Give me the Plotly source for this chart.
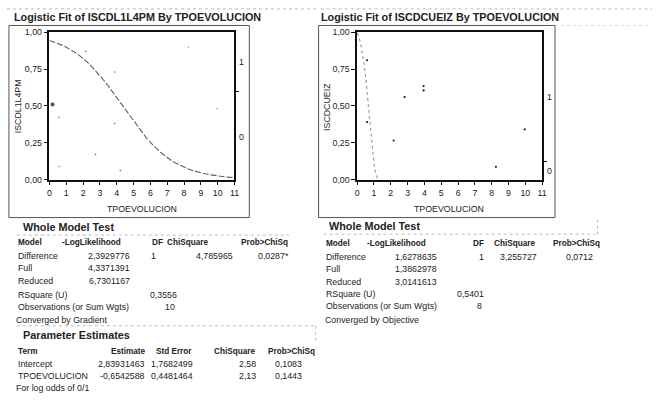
import math
import plotly.graph_objects as go

W, H = 657, 400
FONT = "Liberation Sans, Arial, sans-serif"
TXT = "#222222"

# ---------------- data ----------------
x_ticks = list(range(0, 12))
y_tickvals = [0, 0.25, 0.5, 0.75, 1.0]
y_ticktext = ["0,00", "0,25", "0,50", "0,75", "1,00"]

# left plot: ISCDL1L4PM (jittered points as displayed)
left_x = [0.18, 0.57, 0.57, 2.15, 2.74, 3.88, 3.88, 4.21, 8.25, 9.96]
left_y = [0.51, 0.42, 0.09, 0.87, 0.17, 0.73, 0.38, 0.06, 0.90, 0.48]
left_intercept = 2.83931463
left_slope = -0.6542588
left_boundary = 0.6
left_curve_x = [i * 0.25 for i in range(0, 45)]

# right plot: ISCDCUEIZ
right_x = [0.59, 0.59, 2.17, 2.82, 3.95, 3.95, 8.25, 9.96]
right_y = [0.81, 0.39, 0.265, 0.56, 0.635, 0.605, 0.086, 0.34]
right_curve_x = [0.0, 0.1, 0.2, 0.3, 0.4, 0.5, 0.6, 0.7, 0.8, 0.9, 1.0, 1.1, 1.2, 1.3]
right_curve_y = [0.995, 0.97, 0.93, 0.87, 0.79, 0.70, 0.58, 0.45, 0.32, 0.20, 0.11, 0.04, 0.012, 0.003]
right_boundary = 0.125

titles = ["Logistic Fit of ISCDL1L4PM By TPOEVOLUCION",
          "Logistic Fit of ISCDCUEIZ By TPOEVOLUCION"]
y_titles = ["ISCDL1L4PM", "ISCDCUEIZ"]
x_title = "TPOEVOLUCION"

# tables
wmt_header = ["Model", "-LogLikelihood", "DF", "ChiSquare", "Prob>ChiSq"]
left_wmt = [["Difference", "2,3929776", "1", "4,785965", "0,0287*"],
            ["Full", "4,3371391", "", "", ""],
            ["Reduced", "6,7301167", "", "", ""]]
left_rsq = ["RSquare (U)", "0,3556"]
left_obs = ["Observations (or Sum Wgts)", "10"]
left_conv = "Converged by Gradient"

pe_header = ["Term", "Estimate", "Std Error", "ChiSquare", "Prob>ChiSq"]
pe_rows = [["Intercept", "2,83931463", "1,7682499", "2,58", "0,1083"],
           ["TPOEVOLUCION", "-0,6542588", "0,4481464", "2,13", "0,1443"]]
pe_note = "For log odds of 0/1"

right_wmt = [["Difference", "1,6278635", "1", "3,255727", "0,0712"],
             ["Full", "1,3862978", "", "", ""],
             ["Reduced", "3,0141613", "", "", ""]]
right_rsq = ["RSquare (U)", "0,5401"]
right_obs = ["Observations (or Sum Wgts)", "8"]
right_conv = "Converged by Objective"

# ---------------- helpers ----------------
def px(x):
    return x / W

def py(y):
    return 1 - y / H

annotations = []
shapes = []

def text(x, y, s, size=8.8, bold=False, anchor="left", color=TXT):
    shift = -3 if anchor == "left" else (3 if anchor == "right" else 0)
    annotations.append(dict(
        x=px(x), y=py(y), xref="paper", yref="paper", text=("<b>%s</b>" % s) if bold else s,
        showarrow=False, xanchor=anchor, yanchor="middle", xshift=shift,
        font=dict(family=FONT, size=size, color=color)))

def box(x0, y0, x1, y1, color="#777777", width=1, dash="solid"):
    shapes.append(dict(type="rect", xref="paper", yref="paper",
                       x0=px(x0), y0=py(y1), x1=px(x1), y1=py(y0),
                       line=dict(color=color, width=width, dash=dash)))

def hline(x0, x1, y, color="#bbbbbb", width=1, dash="dot"):
    shapes.append(dict(type="line", xref="paper", yref="paper",
                       x0=px(x0), x1=px(x1), y0=py(y), y1=py(y),
                       line=dict(color=color, width=width, dash=dash)))

def vline(x, y0, y1, color="#bbbbbb", width=1, dash="dot"):
    shapes.append(dict(type="line", xref="paper", yref="paper",
                       x0=px(x), x1=px(x), y0=py(y0), y1=py(y1),
                       line=dict(color=color, width=width, dash=dash)))

# ---------------- figure ----------------
fig = go.Figure()

left_curve_y = [1 / (1 + math.exp(-(left_intercept + left_slope * v))) for v in left_curve_x]

fig.add_trace(go.Scatter(x=left_curve_x, y=left_curve_y, mode="lines",
                         line=dict(color="#5a5e68", width=1.1, dash="6px,2px"),
                         xaxis="x", yaxis="y", showlegend=False, hoverinfo="skip"))
fig.add_trace(go.Scatter(x=left_x, y=left_y, mode="markers",
                         marker=dict(color="#111111", size=[5] + [2.2] * (len(left_x) - 1)),
                         xaxis="x", yaxis="y", showlegend=False))
fig.add_trace(go.Scatter(x=right_curve_x, y=right_curve_y, mode="lines",
                         line=dict(color="#9a9ea6", width=1.2, dash="dot"),
                         xaxis="x2", yaxis="y2", showlegend=False, hoverinfo="skip"))
fig.add_trace(go.Scatter(x=right_x, y=right_y, mode="markers",
                         marker=dict(color="#222222", size=2.2),
                         xaxis="x2", yaxis="y2", showlegend=False))
# invisible traces to activate right-side axes
fig.add_trace(go.Scatter(x=[0], y=[0], mode="markers", marker=dict(opacity=0),
                         xaxis="x", yaxis="y3", showlegend=False, hoverinfo="skip"))
fig.add_trace(go.Scatter(x=[0], y=[0], mode="markers", marker=dict(opacity=0),
                         xaxis="x2", yaxis="y4", showlegend=False, hoverinfo="skip"))

tickfont = dict(family=FONT, size=8.8, color=TXT)

def xaxis_cfg(x0, x1):
    return dict(domain=[px(x0), px(x1)], range=[0, 11], tickvals=x_ticks,
                ticks="outside", ticklen=4, tickcolor="#111", tickwidth=1,
                showline=True, linecolor="#111", linewidth=1.5, mirror=True,
                showgrid=False, zeroline=False, tickfont=tickfont, fixedrange=True)

def yaxis_cfg(anchor):
    return dict(domain=[py(179), py(28)], range=[0, 1], tickvals=y_tickvals,
                ticktext=y_ticktext, ticks="outside", ticklen=4, tickcolor="#111",
                showline=True, linecolor="#111", linewidth=1.5, mirror=True,
                showgrid=False, zeroline=False, tickfont=tickfont, anchor=anchor,
                fixedrange=True)

def yaxis_right(over, anchor, boundary):
    return dict(overlaying=over, anchor=anchor, side="right", range=[0, 1],
                tickvals=[boundary], ticktext=[""], ticks="outside", ticklen=4,
                tickcolor="#111", showline=False, showgrid=False, zeroline=False,
                fixedrange=True)

fig.update_layout(
    width=W, height=H, margin=dict(l=0, r=0, t=0, b=0),
    paper_bgcolor="white", plot_bgcolor="white",
    xaxis=xaxis_cfg(48, 235), yaxis=yaxis_cfg("x"),
    xaxis2=xaxis_cfg(359, 546), yaxis2=yaxis_cfg("x2"),
    yaxis3=yaxis_right("y", "x", left_boundary),
    yaxis4=yaxis_right("y2", "x2", right_boundary),
    showlegend=False,
)

# right-axis level labels
for xr, yr, yv, lab in [("x domain", "y", 0.80, "1"), ("x domain", "y", 0.29, "0"),
                        ("x2 domain", "y2", 0.56, "1"), ("x2 domain", "y2", 0.06, "0")]:
    annotations.append(dict(x=1.0, y=yv, xref=xr, yref=yr, text=lab, showarrow=False,
                            xanchor="left", xshift=3,
                            font=dict(family=FONT, size=8.8, color=TXT)))

# titles and outer frames
text(13, 12, titles[0], size=10.8, bold=True)
text(323, 12, titles[1], size=10.8, bold=True)
box(7, 21, 250, 218, color="#555555")
box(320, 21, 559, 218, color="#555555")
hline(5, 318, 4)
hline(322, 657, 4)
hline(559, 657, 21, color="#dddddd")
text(142, 209, x_title, size=8.8, anchor="center")
text(452, 209, x_title, size=8.8, anchor="center")
for xc, lab in [(17, y_titles[0]), (329, y_titles[1])]:
    annotations.append(dict(x=px(xc), y=py(104), xref="paper", yref="paper", text=lab,
                            showarrow=False, textangle=-90, xanchor="center", yanchor="middle",
                            font=dict(family=FONT, size=8.8, color=TXT)))

# ---------------- left whole model test ----------------
text(22, 228, "Whole Model Test", size=10.8, bold=True)
hline(15, 290, 236)
hcols = [(17, "left"), (62, "left"), (162, "right"), (168, "left"), (288, "right")]
for (cx, an), h in zip(hcols, wmt_header):
    text(cx, 244, h, size=8.2, bold=True, anchor=an)
vcols = [(17, "left"), (128, "right"), (155, "right"), (232, "right"), (289, "right")]
for ry, row in zip([257, 270, 283], left_wmt):
    for (cx, an), v in zip(vcols, row):
        if v:
            text(cx, ry, v, anchor=an)
text(17, 297, left_rsq[0])
text(176, 297, left_rsq[1], anchor="right")
text(17, 310, left_obs[0])
text(174, 310, left_obs[1], anchor="right")
text(15, 323, left_conv)

# ---------------- parameter estimates ----------------
hline(15, 317, 329)
vline(317, 329, 345)
text(22, 338, "Parameter Estimates", size=10.8, bold=True)
pcols_h = [(17, "left"), (145, "right"), (157, "left"), (255, "right"), (315, "right")]
for (cx, an), h in zip(pcols_h, pe_header):
    text(cx, 355, h, size=8.2, bold=True, anchor=an)
pcols = [(17, "left"), (144, "right"), (152, "left"), (256, "right"), (302, "right")]
for ry, row in zip([368, 380], pe_rows):
    for (cx, an), v in zip(pcols, row):
        text(cx, ry, v, anchor=an)
text(15, 393, pe_note)

# ---------------- right whole model test ----------------
text(332, 227, "Whole Model Test", size=10.8, bold=True)
hline(325, 600, 235)
vline(602, 220, 237)
rh = [(328, "left"), (370, "left"), (486, "right"), (498, "left"), (603, "right")]
for (cx, an), h in zip(rh, wmt_header):
    text(cx, 245, h, size=8.2, bold=True, anchor=an)
rv = [(328, "left"), (439, "right"), (486, "right"), (540, "right"), (596, "right")]
for ry, row in zip([258, 271, 284], right_wmt):
    for (cx, an), v in zip(rv, row):
        if v:
            text(cx, ry, v, anchor=an)
text(328, 296, right_rsq[0])
text(486, 296, right_rsq[1], anchor="right")
text(328, 309, right_obs[0])
text(484, 309, right_obs[1], anchor="right")
text(327, 323, right_conv)

fig.update_layout(annotations=annotations, shapes=shapes)
fig.write_html("out.html")
